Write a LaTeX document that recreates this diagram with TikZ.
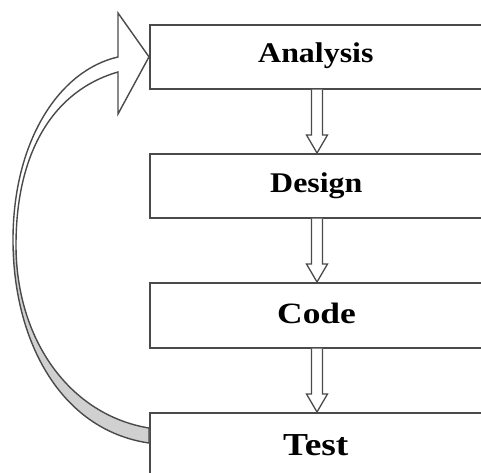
\documentclass[tikz,border=0pt]{standalone}
\usepackage{fontspec}
\setmainfont{Liberation Serif}
\usetikzlibrary{calc}
\definecolor{ln}{HTML}{4A4A4A}
\definecolor{rib}{HTML}{D0D0D0}
\newcommand\flowarrow[2]{%
  \draw[flow] ($(#1.south -| mx)+(-5.5,0)$) -- ($(#2.north -| mx)+(-5.5,-18)$)
    -- ($(#2.north -| mx)+(-10.5,-18)$) -- (#2.north -| mx)
    -- ($(#2.north -| mx)+(10.5,-18)$) -- ($(#2.north -| mx)+(5.5,-18)$)
    -- ($(#1.south -| mx)+(5.5,0)$);}
\begin{document}
\begin{tikzpicture}[x=1pt,y=-1pt,
  box/.style={draw=ln,line width=1.7pt,rectangle,minimum width=350pt,anchor=north west,inner sep=0pt},
  lbl/.style={anchor=base west,inner sep=0pt,font=\bfseries},
  flow/.style={draw=ln,line width=1.3pt,fill=white,line join=miter}]
\useasboundingbox (0,0) rectangle (481,472);
\clip (0,0) rectangle (481,472);
\coordinate (mx) at (317,0);
\node[box,minimum height=64pt] (an) at (149,24) {};
\node[box,minimum height=64pt] (de) at (149,153) {};
\node[box,minimum height=65pt] (co) at (149,282) {};
\node[box,minimum height=90pt] (te) at (149,412) {};
\node[lbl,font=\bfseries\fontsize{28.5}{30}\selectfont] (tan) at (258,62) {\scalebox{1.12}[1]{Analysis}};
\node[lbl,font=\bfseries\fontsize{28.5}{30}\selectfont] (tde) at (270,192) {\scalebox{1.12}[1]{Design}};
\node[lbl,font=\bfseries\fontsize{29.5}{31}\selectfont] (tco) at (277,323) {\scalebox{1.2}[1]{Code}};
\node[lbl,font=\bfseries\fontsize{32}{34}\selectfont] (tte) at (283,455) {\scalebox{1.17}[1]{Test}};
\flowarrow{an}{de}
\flowarrow{de}{co}
\flowarrow{co}{te}
\path[save path=\ribpath] ($(te.north west)+(0,31)$) .. controls (60,430) and (13,340) .. (13,240)
  .. controls (13,140) and (60,70) .. (118,57) -- (118,13) -- (an.west) -- (118,114) -- (118,72)
  .. controls (55,90) and (16,150) .. (16,245) .. controls (16,340) and (70,415) .. ($(te.north west)+(0,16)$) -- cycle;
\fill[white,use path=\ribpath];
\begin{scope}
\clip (0,250) rectangle (150,472);
\fill[rib,use path=\ribpath];
\end{scope}
\draw[ln,line width=1.4pt,line join=miter,use path=\ribpath];
\end{tikzpicture}
\end{document}
